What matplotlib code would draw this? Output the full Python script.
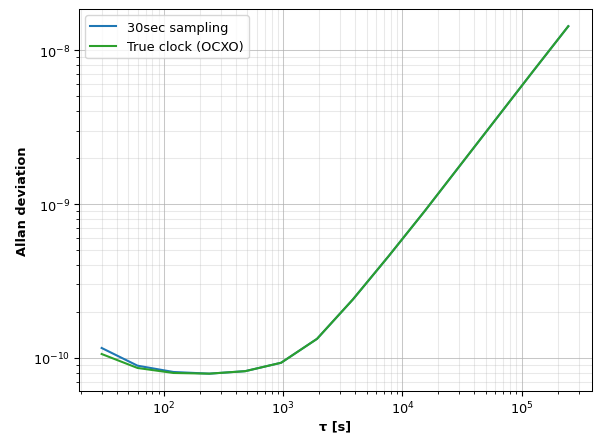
import matplotlib
matplotlib.use("Agg")
import matplotlib.pyplot as plt
from matplotlib.ticker import NullFormatter

tau = [30, 60, 120, 240, 480, 960, 1920, 3840, 7680, 15360, 30720, 61440, 122880, 245760]
adev_sampled = [1.16e-10, 8.9e-11, 8.1e-11, 7.9e-11, 8.2e-11, 9.3e-11, 1.33e-10, 2.4e-10,
                4.6e-10, 9.0e-10, 1.8e-9, 3.6e-9, 7.2e-9, 1.43e-8]
adev_true = [1.06e-10, 8.6e-11, 7.98e-11, 7.9e-11, 8.2e-11, 9.3e-11, 1.33e-10, 2.4e-10,
             4.6e-10, 9.0e-10, 1.8e-9, 3.6e-9, 7.2e-9, 1.43e-8]

s = 0.93
plt.rcParams.update({
    "font.size": 10 * s,
    "lines.linewidth": 1.6 * s,
    "axes.linewidth": 0.8 * s,
    "xtick.major.size": 3.5 * s, "ytick.major.size": 3.5 * s,
    "xtick.minor.size": 2 * s, "ytick.minor.size": 2 * s,
    "xtick.major.pad": 3.5 * s, "ytick.major.pad": 3.5 * s,
})

fig, ax = plt.subplots(figsize=(5.97, 4.35), dpi=100)
ax.loglog(tau, adev_sampled, color="#1f77b4", label="30sec sampling")
ax.loglog(tau, adev_true, color="#2ca02c", label="True clock (OCXO)")
ax.set_xlim(19.3, 3.9e5)
ax.set_ylim(6.1e-11, 1.85e-8)
ax.xaxis.set_minor_formatter(NullFormatter())
ax.yaxis.set_minor_formatter(NullFormatter())
ax.grid(True, which="major", color="#b0b0b0", alpha=0.7, linewidth=0.8 * s)
ax.grid(True, which="minor", color="#b0b0b0", alpha=0.28, linewidth=0.8 * s)
ax.set_xlabel("τ [s]", fontweight="bold", labelpad=2)
ax.set_ylabel("Allan deviation", fontweight="bold", labelpad=2.5)
ax.legend(loc="upper left")
fig.subplots_adjust(left=0.132, right=0.992, top=0.977, bottom=0.099)
fig.savefig("out.png", dpi=100)
